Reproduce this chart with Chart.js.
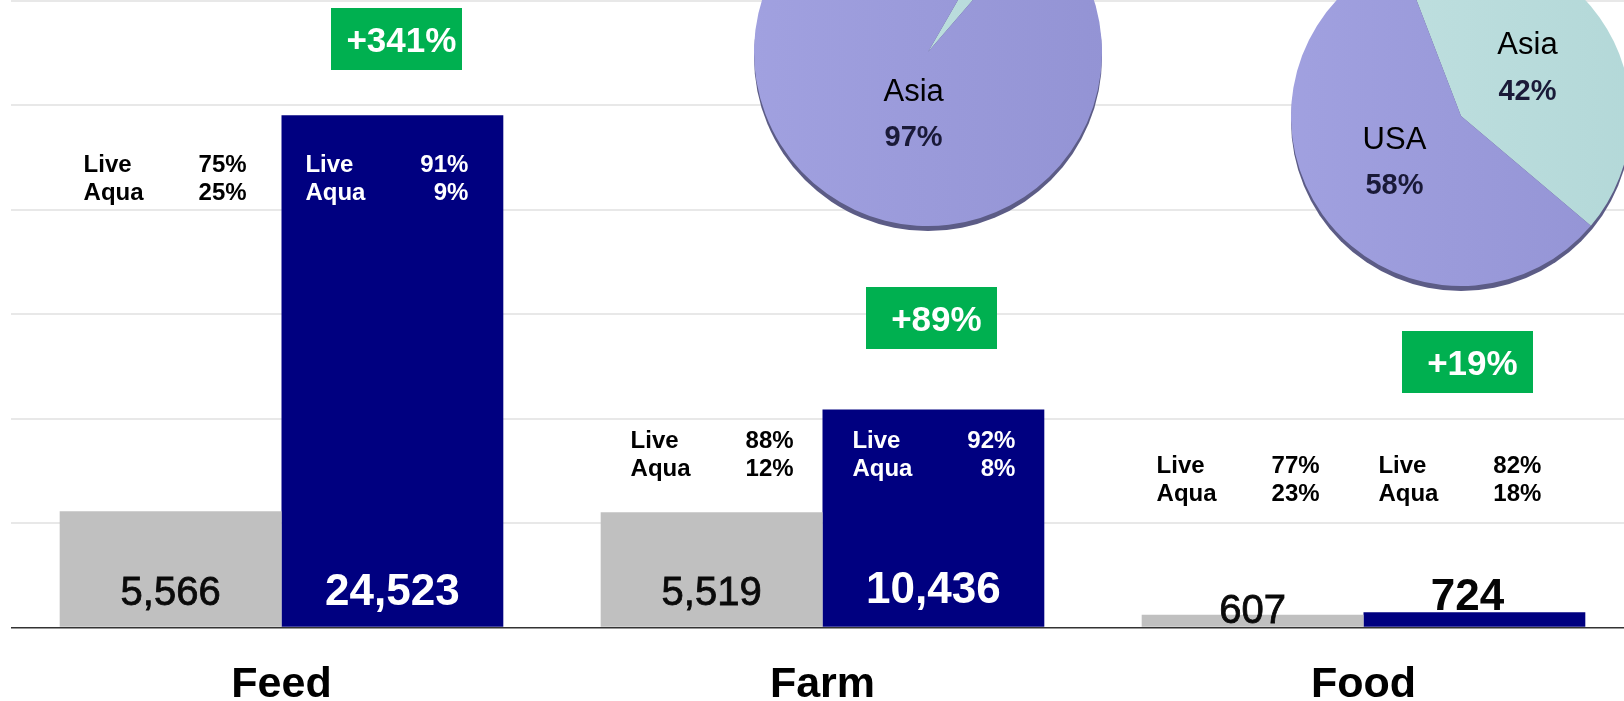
<!DOCTYPE html>
<html>
<head>
<meta charset="utf-8">
<script src="https://cdn.jsdelivr.net/npm/chart.js@4.4.1/dist/chart.umd.min.js"></script>
<style>
  html, body { margin: 0; padding: 0; background: #fff; overflow: hidden; }
  #wrap { position: relative; width: 1624px; height: 701px; overflow: hidden; }
  #bars { position: absolute; left: 0; top: 0; }
  .pie { position: absolute; }
</style>
</head>
<body>
<div id="wrap">
  <canvas id="bars" width="1634" height="743"></canvas>
  <canvas id="pieFarm" class="pie" width="370" height="370" style="left:743px;top:-133px"></canvas>
  <canvas id="pieFood" class="pie" width="370" height="370" style="left:1276px;top:-69px"></canvas>
</div>
<script>
// volumes per stage, before and after
var stages = ["Feed", "Farm", "Food"];
var before = [5566, 5519, 607];
var after = [24523, 10436, 724];

// species mix (%) behind each bar
var liveBefore = [75, 88, 77];
var aquaBefore = [25, 12, 23];
var liveAfter = [91, 92, 82];
var aquaAfter = [9, 8, 18];

// regional split
var farmRegions = ["USA", "Asia"];
var farmShare = [3, 97];
var foodRegions = ["Asia", "USA"];
var foodShare = [42, 58];

var FONT = "'Liberation Sans', Arial, sans-serif";

function font(size, bold) {
  return (bold ? "bold " : "") + size + "px " + FONT;
}

// labels, mix blocks and growth badges on top of the bars
var annotate = {
  id: "annotate",
  afterDatasetsDraw: function (chart, args, opts) {
    var ctx = chart.ctx;
    var y = chart.scales.y;
    var base = y.getPixelForValue(0);
    ctx.save();

    chart.data.datasets.forEach(function (ds, d) {
      var meta = chart.getDatasetMeta(d);
      meta.data.forEach(function (bar, i) {
        // value at the foot of the bar
        var vy = base - opts.valueLift[d][i];
        var inside = d === 1 && vy - 16 > bar.y;
        var txt = ds.data[i].toLocaleString("en-US");
        var vx = bar.x + opts.valueShift[d][i];
        ctx.textAlign = "center";
        ctx.textBaseline = "alphabetic";
        if (d === 1) {
          ctx.font = font(44, true);
          ctx.fillStyle = inside ? "#fff" : "#050505";
          ctx.fillText(txt, vx, vy);
        } else {
          ctx.font = font(40, false);
          ctx.fillStyle = "#0a0a0a";
          ctx.strokeStyle = "#0a0a0a";
          ctx.lineWidth = 0.8;
          ctx.fillText(txt, vx, vy);
          ctx.strokeText(txt, vx, vy);
        }

        // Live / Aqua block
        var ty = y.getPixelForValue(opts.mixLevel[i]);
        var cx = bar.x + opts.mixShift[i];
        ctx.font = font(24, true);
        ctx.fillStyle = (d === 1 && ty - 10 > bar.y) ? "#fff" : "#000";
        var rows = [["Live", ds.live[i]], ["Aqua", ds.aqua[i]]];
        rows.forEach(function (r, k) {
          var ly = ty + k * 28;
          ctx.textAlign = "left";
          ctx.fillText(r[0], cx - 81, ly);
          ctx.textAlign = "right";
          ctx.fillText(r[1] + "%", cx + 82, ly);
        });
      });
    });

    // growth badges above the second series
    var metaAfter = chart.getDatasetMeta(1);
    metaAfter.data.forEach(function (bar, i) {
      var growth = Math.round((after[i] / before[i] - 1) * 100);
      var bx = bar.x + opts.badgeShift[i];
      var by = y.getPixelForValue(opts.badgeLevel[i]);
      ctx.fillStyle = "#00b050";
      ctx.fillRect(Math.round(bx - 65.5), Math.round(by - 31), 131, 62);
      ctx.fillStyle = "#fff";
      ctx.font = font(35, true);
      ctx.textAlign = "center";
      ctx.textBaseline = "alphabetic";
      ctx.fillText("+" + growth + "%", bx + 5, by + 13);
    });

    ctx.restore();
  }
};

new Chart(document.getElementById("bars"), {
  type: "bar",
  data: {
    labels: stages,
    datasets: [{
      label: "Before",
      data: before,
      live: liveBefore,
      aqua: aquaBefore,
      backgroundColor: "#c0c0c0",
      barPercentage: 1,
      categoryPercentage: 0.82
    }, {
      label: "After",
      data: after,
      live: liveAfter,
      aqua: aquaAfter,
      backgroundColor: "#000080",
      barPercentage: 1,
      categoryPercentage: 0.82
    }]
  },
  options: {
    responsive: false,
    animation: false,
    layout: { padding: { left: 11, top: 1, right: 0, bottom: 0 } },
    plugins: {
      legend: { display: false },
      tooltip: { enabled: false },
      annotate: {
        valueLift: [[22, 22, 4], [22, 24, 17]],
        valueShift: [[0, 0, 0], [0, 0, -7]],
        mixLevel: [21800, 8600, 7400],
        mixShift: [-6, 0, -15],
        badgeLevel: [28200, 14800, 12700],
        badgeShift: [4, -2, -7]
      }
    },
    scales: {
      x: {
        grid: { display: false, drawTicks: false },
        border: { display: false },
        ticks: {
          color: "#000",
          padding: 32,
          font: { family: FONT, size: 43, weight: "bold" }
        }
      },
      y: {
        min: 0,
        max: 30000,
        border: { display: false },
        ticks: { display: false, stepSize: 5000 },
        grid: {
          drawTicks: false,
          color: function (c) { return c.tick.value === 0 ? "#333" : "#e8e8e8"; },
          lineWidth: function (c) { return c.tick.value === 0 ? 1.5 : 2; }
        }
      }
    }
  },
  plugins: [annotate]
});

// 3D-ish rim under the pie and two-line slice labels
var pieDecor = {
  id: "pieDecor",
  beforeDatasetsDraw: function (chart) {
    var arc = chart.getDatasetMeta(0).data[0];
    var ctx = chart.ctx;
    ctx.save();
    ctx.beginPath();
    ctx.arc(arc.x, arc.y + 5, arc.outerRadius, 0, Math.PI * 2);
    ctx.fillStyle = "#5c5c86";
    ctx.fill();
    ctx.restore();
  },
  afterDatasetsDraw: function (chart, args, opts) {
    var ctx = chart.ctx;
    var meta = chart.getDatasetMeta(0);
    var data = chart.data.datasets[0].data;
    var total = data.reduce(function (a, b) { return a + b; }, 0);
    ctx.save();
    ctx.textAlign = "center";
    ctx.textBaseline = "middle";
    meta.data.forEach(function (arc, i) {
      if (data[i] / total < 0.1) return;
      var mid = (arc.startAngle + arc.endAngle) / 2;
      var r = arc.outerRadius * 0.48;
      var x = arc.x + Math.cos(mid) * r + opts.nudge[0];
      var yy = arc.y + Math.sin(mid) * r + opts.nudge[1];
      ctx.fillStyle = "#000";
      ctx.font = font(31, false);
      ctx.fillText(chart.data.labels[i], x, yy - 23);
      ctx.fillStyle = "#1a1a38";
      ctx.font = font(29, true);
      ctx.fillText(data[i] + "%", x, yy + 23);
    });
    ctx.restore();
  }
};

// left-to-right shading for each slice
function sliceFill(shades) {
  return function (c) {
    var pair = shades[c.dataIndex];
    var area = c.chart.chartArea;
    if (!area) return pair[1];
    var g = c.chart.ctx.createLinearGradient(area.left, 0, area.right, 0);
    g.addColorStop(0, pair[0]);
    g.addColorStop(1, pair[1]);
    return g;
  };
}

var purple = ["#a1a1e0", "#9393d4"];
var teal = ["#c3e2e2", "#b3d8d8"];

function makePie(id, labels, values, shades, rotation, radius, nudge) {
  return new Chart(document.getElementById(id), {
    type: "pie",
    data: {
      labels: labels,
      datasets: [{ data: values, backgroundColor: sliceFill(shades), borderWidth: 0 }]
    },
    options: {
      responsive: false,
      animation: false,
      rotation: rotation,
      radius: radius,
      layout: { padding: 0 },
      plugins: {
        legend: { display: false },
        tooltip: { enabled: false },
        pieDecor: { nudge: nudge }
      }
    },
    plugins: [pieDecor]
  });
}

makePie("pieFarm", farmRegions, farmShare, [teal, purple], 30, 174, [34, -5]);
makePie("pieFood", foodRegions, foodShare, [teal, purple], -21, 170, [0, 0]);
</script>
</body>
</html>
